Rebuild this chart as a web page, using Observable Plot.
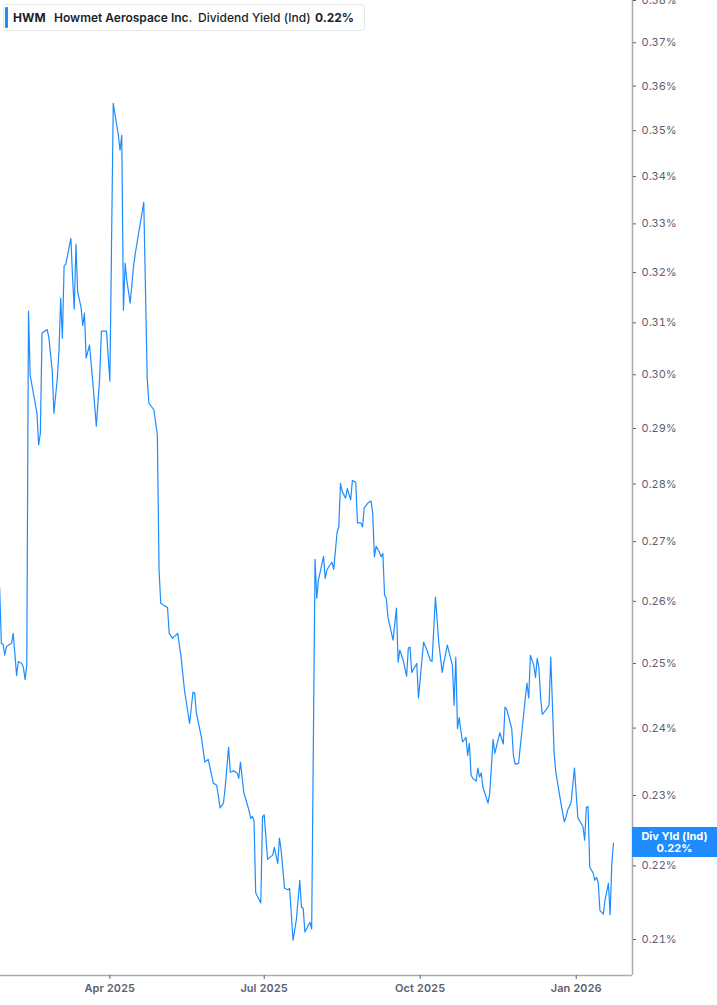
<!DOCTYPE html>
<html>
<head>
<meta charset="utf-8">
<script src="https://cdn.jsdelivr.net/npm/d3@7"></script>
<script src="https://cdn.jsdelivr.net/npm/@observablehq/plot@0.6"></script>
<style>
  body { margin: 0; background: #fff; font-family: Inter, "Noto Sans", sans-serif; }
  #wrap { position: relative; width: 717px; height: 1005px; overflow: hidden; }
  #legend { position: absolute; left: 3px; top: 4px; width: 360px; height: 25px; border: 1px solid #e4e6ea; border-radius: 3px; background: #fff; }
  #legend .bar { position: absolute; left: 1px; top: 2px; width: 3px; height: 21px; background: #1e8cff; border-radius: 1px; }
  #legend span { position: absolute; top: 5px; font-size: 12px; line-height: 15px; color: #1b1f2b; white-space: nowrap; }
  #vbox { position: absolute; left: 632px; width: 85px; height: 30px; background: #1e8cff; color: #fff; font-size: 11px; font-weight: 700; line-height: 12px; text-align: center; display: flex; flex-direction: column; justify-content: center; }
</style>
</head>
<body>
<div id="wrap"></div>
<script>
// Daily dividend yield (%)
const dates = [
"2025-01-26","2025-01-27","2025-01-28","2025-01-29","2025-01-30","2025-02-02","2025-02-03","2025-02-05","2025-02-06","2025-02-08",
"2025-02-09","2025-02-10","2025-02-11","2025-02-12","2025-02-13","2025-02-17","2025-02-18","2025-02-19","2025-02-20","2025-02-23",
"2025-02-24","2025-02-26","2025-02-27","2025-03-01","2025-03-02","2025-03-03","2025-03-04","2025-03-05","2025-03-06","2025-03-09",
"2025-03-10","2025-03-11","2025-03-12","2025-03-13","2025-03-15","2025-03-16","2025-03-17","2025-03-18","2025-03-20","2025-03-22",
"2025-03-24","2025-03-26","2025-03-27","2025-03-30","2025-04-01","2025-04-03","2025-04-06","2025-04-07","2025-04-08","2025-04-09",
"2025-04-10","2025-04-11","2025-04-13","2025-04-15","2025-04-16","2025-04-21","2025-04-23","2025-04-24","2025-04-27","2025-04-29",
"2025-04-30","2025-05-01","2025-05-03","2025-05-05","2025-05-06","2025-05-08","2025-05-09","2025-05-11","2025-05-13","2025-05-15",
"2025-05-18","2025-05-20","2025-05-21","2025-05-22","2025-05-25","2025-05-27","2025-05-29","2025-06-01","2025-06-03","2025-06-05",
"2025-06-07","2025-06-08","2025-06-10","2025-06-11","2025-06-13","2025-06-15","2025-06-16","2025-06-17","2025-06-19","2025-06-22",
"2025-06-23","2025-06-24","2025-06-25","2025-06-26","2025-06-29","2025-06-30","2025-07-01","2025-07-03","2025-07-06","2025-07-07",
"2025-07-09","2025-07-10","2025-07-11","2025-07-13","2025-07-15","2025-07-16","2025-07-18","2025-07-20","2025-07-22","2025-07-23",
"2025-07-24","2025-07-25","2025-07-28","2025-07-29","2025-07-31","2025-08-01","2025-08-02","2025-08-05","2025-08-06","2025-08-07",
"2025-08-08","2025-08-10","2025-08-11","2025-08-13","2025-08-14","2025-08-15","2025-08-16","2025-08-18","2025-08-19","2025-08-21",
"2025-08-22","2025-08-24","2025-08-25","2025-08-27","2025-08-28","2025-08-29","2025-08-31","2025-09-02","2025-09-03","2025-09-04",
"2025-09-05","2025-09-07","2025-09-08","2025-09-09","2025-09-10","2025-09-11","2025-09-12","2025-09-15","2025-09-17","2025-09-18",
"2025-09-19","2025-09-21","2025-09-23","2025-09-24","2025-09-25","2025-09-26","2025-09-29","2025-09-30","2025-10-03","2025-10-05",
"2025-10-07","2025-10-08","2025-10-10","2025-10-12","2025-10-14","2025-10-15","2025-10-17","2025-10-20","2025-10-21","2025-10-22",
"2025-10-23","2025-10-24","2025-10-25","2025-10-26","2025-10-28","2025-10-29","2025-10-30","2025-10-31","2025-11-01","2025-11-03",
"2025-11-04","2025-11-05","2025-11-06","2025-11-07","2025-11-10","2025-11-11","2025-11-13","2025-11-14","2025-11-17","2025-11-19",
"2025-11-20","2025-11-21","2025-11-24","2025-11-25","2025-11-26","2025-11-28","2025-11-30","2025-12-02","2025-12-03","2025-12-04",
"2025-12-05","2025-12-07","2025-12-08","2025-12-09","2025-12-10","2025-12-11","2025-12-12","2025-12-14","2025-12-16","2025-12-17",
"2025-12-19","2025-12-20","2025-12-23","2025-12-25","2025-12-26","2025-12-27","2025-12-29","2025-12-31","2026-01-02","2026-01-03",
"2026-01-05","2026-01-06","2026-01-07","2026-01-08","2026-01-09","2026-01-11","2026-01-12","2026-01-13","2026-01-14","2026-01-15",
"2026-01-17","2026-01-18","2026-01-20","2026-01-21","2026-01-22","2026-01-23"
];
const yields = [
0.2622,0.2532,0.2531,0.2513,0.2527,0.2532,0.2548,0.2481,0.2503,0.2500,
0.2494,0.2475,0.2497,0.3123,0.2999,0.2928,0.2870,0.2891,0.3080,0.3087,
0.3072,0.3008,0.2928,0.2993,0.3047,0.3149,0.3070,0.3213,0.3217,0.3270,
0.3190,0.3127,0.3258,0.3161,0.3131,0.3095,0.3119,0.3032,0.3057,0.2984,
0.2904,0.2995,0.3084,0.3084,0.2988,0.3561,0.3490,0.3457,0.3490,0.3125,
0.3219,0.3184,0.3139,0.3215,0.3239,0.3345,0.2995,0.2947,0.2934,0.2888,
0.2652,0.2597,0.2593,0.2590,0.2548,0.2540,0.2543,0.2548,0.2510,0.2458,
0.2407,0.2455,0.2454,0.2423,0.2386,0.2349,0.2353,0.2318,0.2315,0.2282,
0.2289,0.2312,0.2371,0.2334,0.2336,0.2333,0.2325,0.2349,0.2304,0.2279,
0.2267,0.2270,0.2264,0.2163,0.2149,0.2269,0.2272,0.2209,0.2215,0.2226,
0.2203,0.2239,0.2222,0.2169,0.2167,0.2169,0.2099,0.2127,0.2180,0.2143,
0.2142,0.2110,0.2123,0.2114,0.2670,0.2605,0.2635,0.2675,0.2638,0.2652,
0.2657,0.2665,0.2653,0.2716,0.2725,0.2801,0.2787,0.2775,0.2792,0.2772,
0.2806,0.2803,0.2732,0.2732,0.2725,0.2758,0.2766,0.2770,0.2749,0.2674,
0.2692,0.2682,0.2674,0.2680,0.2610,0.2605,0.2574,0.2537,0.2589,0.2502,
0.2521,0.2505,0.2480,0.2524,0.2526,0.2486,0.2500,0.2446,0.2534,0.2521,
0.2505,0.2503,0.2607,0.2532,0.2486,0.2502,0.2529,0.2497,0.2435,0.2510,
0.2399,0.2416,0.2396,0.2379,0.2386,0.2359,0.2377,0.2330,0.2325,0.2321,
0.2340,0.2327,0.2333,0.2312,0.2289,0.2303,0.2383,0.2362,0.2393,0.2376,
0.2432,0.2429,0.2399,0.2359,0.2346,0.2347,0.2396,0.2446,0.2469,0.2446,
0.2513,0.2497,0.2478,0.2508,0.2494,0.2447,0.2421,0.2427,0.2435,0.2510,
0.2362,0.2334,0.2289,0.2262,0.2269,0.2279,0.2290,0.2340,0.2267,0.2264,
0.2255,0.2236,0.2283,0.2284,0.2198,0.2190,0.2180,0.2184,0.2177,0.2139,
0.2134,0.2153,0.2176,0.2133,0.2203,0.2232
];
const yTicks = [0.21,0.22,0.23,0.24,0.25,0.26,0.27,0.28,0.29,0.30,0.31,0.32,0.33,0.34,0.35,0.36,0.37,0.38];
const xTicks = ["2025-04-01","2025-07-01","2025-10-01","2026-01-01"];
const xDomain = ["2025-01-26T12:00:00Z","2026-02-03T05:00:00Z"];
const yDomain = [0.20528, 0.38];
const ticker = "HWM";
const company = "Howmet Aerospace Inc.";
const metric = "Dividend Yield (Ind)";
const boxLabel = "Div Yld (Ind)";

const data = dates.map((d, i) => ({date: new Date(d + "T00:00:00Z"), value: yields[i]}));
const fmt = v => v.toFixed(2) + "%";
const xEnd = new Date(xDomain[1]);

const chart = Plot.plot({
  width: 717,
  height: 1005,
  marginTop: 0,
  marginRight: 85,
  marginBottom: 30,
  marginLeft: 0,
  style: {fontFamily: "Inter, 'Noto Sans', sans-serif", fontSize: "11px", color: "#5b6170", background: "#fff", overflow: "hidden"},
  x: {type: "utc", domain: xDomain.map(d => new Date(d)), label: null},
  y: {type: "log", domain: yDomain, label: null},
  marks: [
    Plot.ruleY([yDomain[0]], {stroke: "#a9abae", strokeWidth: 1.5}),
    Plot.ruleX([xEnd], {stroke: "#a9abae", strokeWidth: 1.5}),
    Plot.axisY({anchor: "right", ticks: yTicks, tickFormat: fmt, tickSize: 3, tickPadding: 6, label: null}),
    Plot.axisX({ticks: xTicks.map(d => new Date(d + "T00:00:00Z")), tickFormat: d3.utcFormat("%b %Y"), tickSize: 4, tickPadding: 5, fontWeight: 600, label: null}),
    Plot.line(data, {x: "date", y: "value", stroke: "#1e8cff", strokeWidth: 1.2})
  ]
});

const wrap = document.getElementById("wrap");
wrap.appendChild(chart);

// legend overlay
const legend = document.createElement("div");
legend.id = "legend";
legend.innerHTML = `<div class="bar"></div>
<span style="left:9px;font-weight:700">${ticker}</span>
<span style="left:50px;font-weight:600">${company}</span>
<span style="left:194px;font-weight:500">${metric}</span>
<span style="left:311px;font-weight:700">${fmt(yields[yields.length-1])}</span>`;
wrap.appendChild(legend);

// current value box, positioned with the plot's y scale
const yLast = chart.scale("y").apply(yields[yields.length - 1]);
const vbox = document.createElement("div");
vbox.id = "vbox";
vbox.style.top = (yLast - 15) + "px";
vbox.innerHTML = `<div>${boxLabel}</div><div>${fmt(yields[yields.length-1])}</div>`;
wrap.appendChild(vbox);
</script>
</body>
</html>
